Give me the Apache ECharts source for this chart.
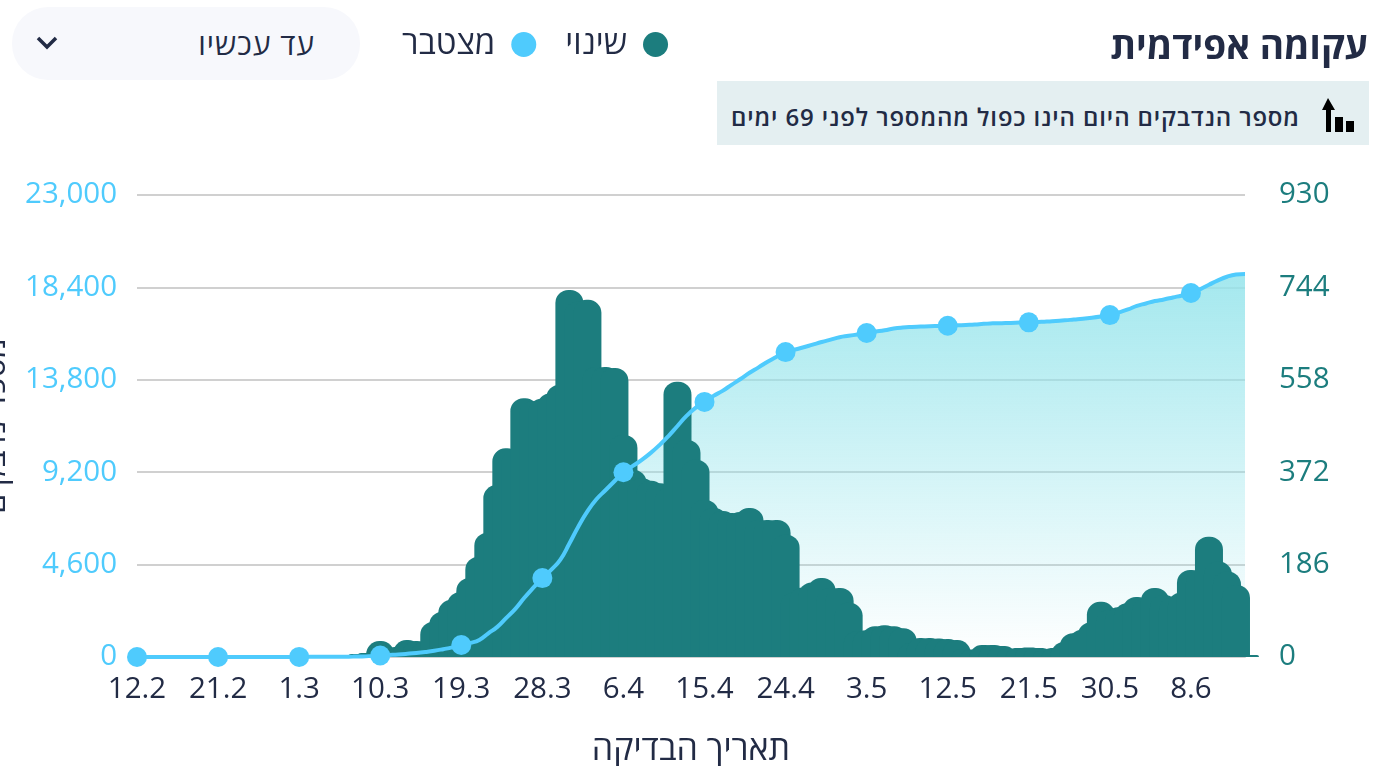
<!DOCTYPE html>
<html lang="he" dir="rtl">
<head>
<meta charset="utf-8">
<title>עקומה אפידמית</title>
<script src="https://cdn.jsdelivr.net/npm/echarts@6/dist/echarts.min.js"></script>
<style>
    html, body { margin: 0; padding: 0; background: #fff; overflow: hidden; }
    body { width: 1373px; height: 766px; position: relative; font-family: 'Open Sans', 'Liberation Sans', sans-serif; color: #222b45; }
    #chart { position: absolute; left: 0; top: 0; width: 1373px; height: 766px; direction: ltr; }
    .title { position: absolute; right: 5px; top: 20px; font-size: 37px; line-height: 50px; font-weight: 700; white-space: nowrap; }
    .note { position: absolute; left: 717px; top: 81px; width: 652px; height: 64px; background: #e4eff1; }
    .note span { position: absolute; right: 69px; top: 21px; font-size: 24px; line-height: 30px; font-weight: 600; letter-spacing: 0.9px; white-space: nowrap; }
    .note svg { position: absolute; left: 604px; top: 16px; }
    .select { position: absolute; left: 12px; top: 7px; width: 348px; height: 73px; border-radius: 36px; background: #f7f8fc; }
    .select span { position: absolute; right: 45px; top: 17px; font-size: 30px; line-height: 40px; letter-spacing: 1px; white-space: nowrap; }
    .select svg { position: absolute; left: 23px; top: 29px; }
</style>
</head>
<body>
<div id="chart"></div>
<div class="title">עקומה אפידמית</div>
<div class="note">
    <span>מספר הנדבקים היום הינו כפול מהמספר לפני 69 ימים</span>
    <svg width="36" height="36" viewBox="0 0 36 36"><path d="M5 1 L12 13 L8 13 L8 35 L3 35 L3 13 L-1 13 Z" transform="translate(2 0)" fill="#000"/><rect x="14" y="20" width="8" height="15" fill="#000"/><rect x="25" y="24" width="8" height="11" fill="#000"/></svg>
</div>
<div class="select">
    <span>עד עכשיו</span>
    <svg width="24" height="14" viewBox="0 0 24 14"><path d="M3 2 L12 11 L21 2" fill="none" stroke="#222b45" stroke-width="3.5"/></svg>
</div>
<script>
'use strict';
var categories = [
    '12.2', '13.2', '14.2', '15.2', '16.2', '17.2', '18.2', '19.2', '20.2', '21.2', '22.2', '23.2', '24.2', '25.2', '26.2', '27.2', '28.2', '29.2',
    '1.3', '2.3', '3.3', '4.3', '5.3', '6.3', '7.3', '8.3', '9.3', '10.3', '11.3', '12.3', '13.3', '14.3', '15.3', '16.3', '17.3', '18.3', '19.3',
    '20.3', '21.3', '22.3', '23.3', '24.3', '25.3', '26.3', '27.3', '28.3', '29.3', '30.3', '31.3',
    '1.4', '2.4', '3.4', '4.4', '5.4', '6.4', '7.4', '8.4', '9.4', '10.4', '11.4', '12.4', '13.4', '14.4', '15.4', '16.4', '17.4', '18.4', '19.4',
    '20.4', '21.4', '22.4', '23.4', '24.4', '25.4', '26.4', '27.4', '28.4', '29.4', '30.4',
    '1.5', '2.5', '3.5', '4.5', '5.5', '6.5', '7.5', '8.5', '9.5', '10.5', '11.5', '12.5', '13.5', '14.5', '15.5', '16.5', '17.5', '18.5', '19.5',
    '20.5', '21.5', '22.5', '23.5', '24.5', '25.5', '26.5', '27.5', '28.5', '29.5', '30.5', '31.5',
    '1.6', '2.6', '3.6', '4.6', '5.6', '6.6', '7.6', '8.6', '9.6', '10.6', '11.6', '12.6', '13.6', '14.6'
];
// שינוי - right axis
var dailyValues = [
    0, 0, 0, 0, 0, 0, 0, 0, 0, 0, 0, 0, 0, 0, 0, 0, 0, 0, 0, 0, 0, 0, 0,
    2, 4, 6, 8, 32, 10, 20, 34, 32, 32, 71, 91, 115, 131, 159, 202, 250, 346, 420, 415,
    521, 515, 520, 531, 548, 739, 715, 719, 584, 584, 582, 447, 377, 360, 355, 350, 340, 554,
    437, 397, 316, 300, 294, 290, 292, 300, 276, 276, 276, 246, 130, 140, 150, 159, 139, 139, 109,
    52, 54, 62, 64, 62, 58, 28, 38, 38, 37, 36, 34, 15, 13, 24, 24, 22, 16, 18, 19, 18, 12,
    18, 30, 48, 55, 70, 111, 95, 100, 108, 121, 118, 139, 125, 120, 130, 175, 175, 242, 192, 172, 145, 4
];
// מצטבר - left axis
var totalValues = [
    0, 0, 0, 0, 0, 0, 0, 1, 1, 1, 1, 2, 2, 2, 3, 3, 4, 5, 6, 7, 8, 10, 12, 15, 20, 30, 50,
    75, 100, 126, 160, 200, 250, 310, 390, 480, 600,
    700, 850, 1180, 1500, 1950, 2400, 2950, 3450, 3930,
    4350, 4850, 5650, 6500, 7250, 7850, 8300, 8750, 9200,
    9500, 9800, 10150, 10550, 11000, 11500, 12000, 12400, 12700,
    13000, 13250, 13550, 13840, 14150, 14420, 14700, 14950, 15180,
    15300, 15420, 15550, 15680, 15800, 15920, 15990, 16060, 16130,
    16200, 16270, 16350, 16400, 16430, 16450, 16470, 16480, 16490,
    16510, 16530, 16550, 16590, 16610, 16620, 16630, 16650, 16660,
    16680, 16700, 16730, 16760, 16800, 16840, 16890, 16950, 17020,
    17150, 17300, 17480, 17600, 17720, 17800, 17900, 18000, 18120,
    18300, 18530, 18750, 18930, 19040, 19070
];
var fontName = "'Open Sans', 'Liberation Sans', sans-serif";
var textColor = '#222b45';
var tealColor = '#1c7d7e';
var blueColor = '#4fcbfd';

var myChart = echarts.init(document.getElementById('chart'));
var option = {
    animation: false,
    textStyle: { fontFamily: fontName },
    legend: {
        left: 397,
        top: 23,
        align: 'right',
        icon: 'circle',
        itemWidth: 25,
        itemHeight: 25,
        itemGap: 29,
        textStyle: { fontSize: 33, color: textColor, fontFamily: fontName, padding: [0, 11, 0, 0] },
        data: ['מצטבר', 'שינוי']
    },
    grid: { left: 137, right: 128, top: 195, bottom: 109, outerBoundsMode: 'none' },
    xAxis: {
        type: 'category',
        boundaryGap: false,
        data: categories,
        name: 'תאריך הבדיקה',
        nameLocation: 'middle',
        nameGap: 76,
        nameTextStyle: { fontSize: 34, color: textColor, fontFamily: fontName },
        axisTick: { show: false },
        axisLine: { lineStyle: { color: '#d0d0d0', width: 2 } },
        axisLabel: { interval: 8, margin: 18, fontSize: 29.5, color: textColor, fontFamily: fontName }
    },
    yAxis: [{
        type: 'value',
        min: 0,
        max: 23000,
        interval: 4600,
        name: 'מספר נדבקים',
        nameLocation: 'middle',
        nameGap: 125,
        nameTextStyle: { fontSize: 32, color: textColor, fontFamily: fontName },
        axisLine: { show: false },
        axisTick: { show: false },
        axisLabel: { margin: 20, fontSize: 29.5, color: blueColor, fontFamily: fontName, padding: [0, 0, 8, 0] },
        splitLine: { lineStyle: { color: '#d0d0d0', width: 2 } }
    }, {
        type: 'value',
        min: 0,
        max: 930,
        interval: 186,
        position: 'right',
        axisLine: { show: false },
        axisTick: { show: false },
        axisLabel: { margin: 34, fontSize: 29.5, color: tealColor, fontFamily: fontName, padding: [0, 0, 8, 0] },
        splitLine: { show: false }
    }],
    series: [{
        // the fill sits behind the bars, the line in front of them
        name: 'מילוי',
        type: 'line',
        yAxisIndex: 0,
        data: totalValues,
        smooth: true,
        showSymbol: false,
        silent: true,
        z: 1,
        lineStyle: { width: 0 },
        areaStyle: {
            opacity: 1,
            color: new echarts.graphic.LinearGradient(0, 0, 0, 1, [
                { offset: 0, color: 'rgba(148, 228, 235, 0.85)' },
                { offset: 1, color: 'rgba(148, 228, 235, 0)' }
            ])
        }
    }, {
        name: 'שינוי',
        type: 'bar',
        yAxisIndex: 1,
        data: dailyValues,
        barWidth: 28,
        clip: false,
        z: 2,
        itemStyle: { color: tealColor, borderRadius: [13, 13, 0, 0] }
    }, {
        name: 'מצטבר',
        type: 'line',
        yAxisIndex: 0,
        data: totalValues,
        smooth: true,
        showAllSymbol: false,
        symbol: 'circle',
        symbolSize: 20,
        z: 3,
        itemStyle: { color: blueColor },
        lineStyle: { color: blueColor, width: 4 }
    }]
};
myChart.setOption(option);
</script>
</body>
</html>
